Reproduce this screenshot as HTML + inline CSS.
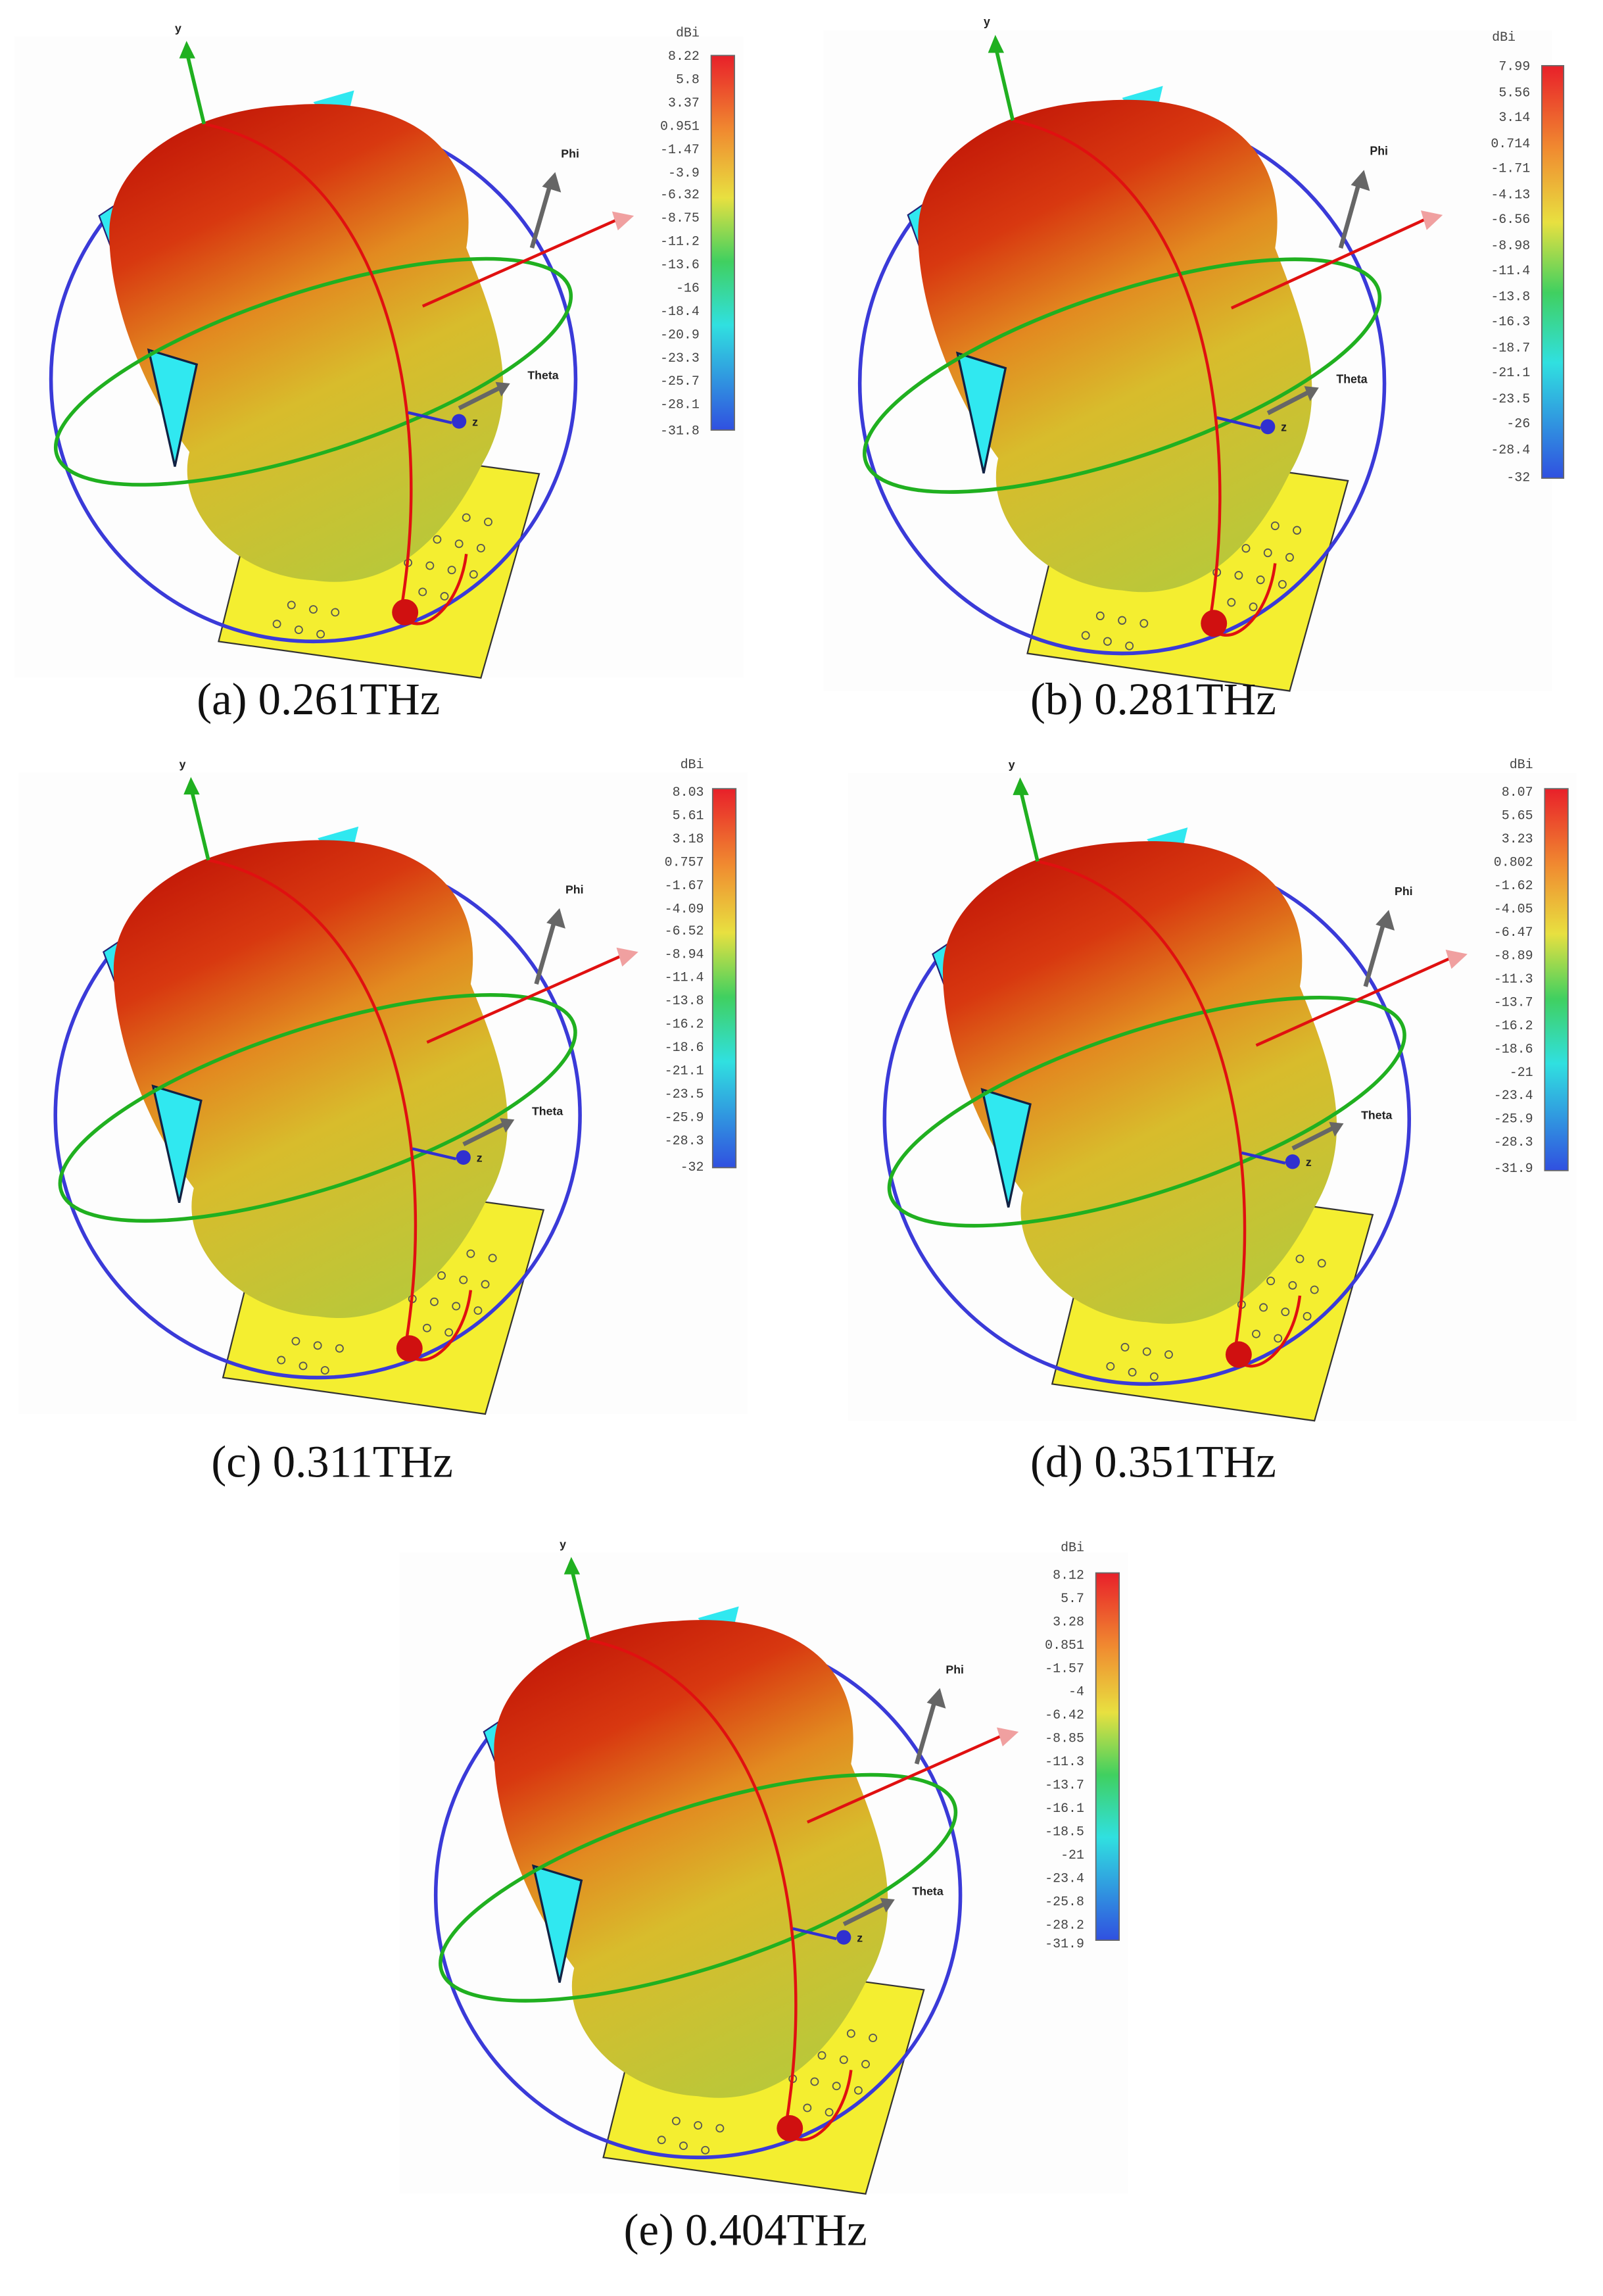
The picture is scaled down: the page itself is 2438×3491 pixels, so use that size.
<!DOCTYPE html>
<html><head><meta charset="utf-8"><style>
html,body{margin:0;padding:0;background:#fff}
svg{display:block}
.cb{font-family:"Liberation Mono",monospace;font-size:9px;fill:#444}
.cap{font-family:"Liberation Serif",serif;font-size:31px;fill:#111}
.ax{font-family:"Liberation Sans",sans-serif;font-size:8px;font-weight:bold;fill:#222}
</style></head><body>
<svg width="2438" height="3491" viewBox="0 0 1100 1575" xmlns="http://www.w3.org/2000/svg">
<defs>
<linearGradient id="blob" x1="0.3" y1="0" x2="0.7" y2="1">
<stop offset="0" stop-color="#c41a08"/><stop offset="0.2" stop-color="#d83810"/>
<stop offset="0.4" stop-color="#e28a20"/><stop offset="0.6" stop-color="#d8bc2c"/>
<stop offset="1" stop-color="#b8c83a"/></linearGradient>
<linearGradient id="bar" x1="0" y1="0" x2="0" y2="1">
<stop offset="0" stop-color="#e8202a"/><stop offset="0.2" stop-color="#f08a30"/>
<stop offset="0.38" stop-color="#e8e040"/><stop offset="0.55" stop-color="#40d060"/>
<stop offset="0.72" stop-color="#30e0e0"/><stop offset="1" stop-color="#3050e0"/></linearGradient>
<g id="pan">
<rect x="10" y="25" width="500" height="440" fill="#fdfdfd"/>
<polygon points="185,300 370,325 330,465 150,440" fill="#f4ee30" stroke="#333" stroke-width="1"/>
<g fill="none" stroke="#555" stroke-width="0.8">
<circle cx="200" cy="415" r="2.5"/><circle cx="215" cy="418" r="2.5"/><circle cx="230" cy="420" r="2.5"/><circle cx="205" cy="432" r="2.5"/><circle cx="220" cy="435" r="2.5"/><circle cx="190" cy="428" r="2.5"/>
<circle cx="290" cy="350" r="2.5"/><circle cx="305" cy="352" r="2.5"/><circle cx="320" cy="355" r="2.5"/><circle cx="335" cy="358" r="2.5"/><circle cx="285" cy="368" r="2.5"/><circle cx="300" cy="370" r="2.5"/><circle cx="315" cy="373" r="2.5"/><circle cx="330" cy="376" r="2.5"/><circle cx="280" cy="386" r="2.5"/><circle cx="295" cy="388" r="2.5"/><circle cx="310" cy="391" r="2.5"/><circle cx="325" cy="394" r="2.5"/><circle cx="290" cy="406" r="2.5"/><circle cx="305" cy="409" r="2.5"/>
</g>
<circle cx="215" cy="260" r="180" fill="none" stroke="#3a3ad8" stroke-width="2.5"/>
<polygon points="68,148 95,130 80,180" fill="#30e8f0" stroke="#227" stroke-width="1"/>
<polygon points="215,70 243,62 235,95" fill="#30e8f0"/>
<path d="M200 72 C290 65 330 110 320 170 C340 220 360 270 330 320 C300 380 260 405 215 398 C160 395 120 350 130 310 C100 270 75 210 75 160 C75 110 130 75 200 72 Z" fill="url(#blob)"/>
<polygon points="102,240 135,250 120,320" fill="#30e8f0" stroke="#124" stroke-width="1.5"/>
<ellipse cx="215" cy="255" rx="185" ry="55" transform="rotate(-18 215 255)" fill="none" stroke="#20b020" stroke-width="2.5"/>
<path d="M140 85 C260 110 300 270 275 420 C285 440 315 420 320 380" fill="none" stroke="#e01010" stroke-width="2"/>
<circle cx="278" cy="420" r="9" fill="#d01010"/>
<line x1="140" y1="85" x2="128" y2="35" stroke="#20b020" stroke-width="2.5"/>
<polygon points="123,40 128,28 134,40" fill="#20b020"/>
<line x1="290" y1="210" x2="425" y2="150" stroke="#e01010" stroke-width="2"/>
<polygon points="420,145 435,148 424,158" fill="#f0a0a0"/>
<line x1="365" y1="170" x2="378" y2="125" stroke="#666" stroke-width="3"/>
<polygon points="372,128 381,118 385,132" fill="#666"/>
<line x1="315" y1="280" x2="345" y2="265" stroke="#666" stroke-width="3"/>
<polygon points="340,262 350,263 344,272" fill="#666"/>
<line x1="280" y1="283" x2="310" y2="290" stroke="#3030d0" stroke-width="2"/>
<circle cx="315" cy="289" r="5" fill="#3030d0"/>
<text class="ax" x="120" y="22">y</text><text class="ax" x="385" y="108">Phi</text>
<text class="ax" x="362" y="260">Theta</text><text class="ax" x="324" y="292">z</text>
</g>
</defs>
<use href="#pan"/>
<use href="#pan" transform="translate(555,-5) scale(1,1.03)"/>
<use href="#pan" transform="translate(3,505)"/>
<use href="#pan" transform="translate(572,505) scale(1,1.01)"/>
<use href="#pan" transform="translate(264,1040)"/>
<g fill="url(#bar)" stroke="#666" stroke-width="0.8">
<rect x="488" y="38" width="16" height="257"/>
<rect x="1058" y="45" width="15" height="283"/>
<rect x="489" y="541" width="16" height="260"/>
<rect x="1060" y="541" width="16" height="262"/>
<rect x="752" y="1079" width="16" height="252"/>
</g>
<g class="cb" text-anchor="end">
<text x="480" y="25">dBi</text>
<text x="480" y="41">8.22</text><text x="480" y="57">5.8</text><text x="480" y="73">3.37</text><text x="480" y="89">0.951</text><text x="480" y="105">-1.47</text><text x="480" y="121">-3.9</text><text x="480" y="136">-6.32</text><text x="480" y="152">-8.75</text><text x="480" y="168">-11.2</text><text x="480" y="184">-13.6</text><text x="480" y="200">-16</text><text x="480" y="216">-18.4</text><text x="480" y="232">-20.9</text><text x="480" y="248">-23.3</text><text x="480" y="264">-25.7</text><text x="480" y="280">-28.1</text><text x="480" y="298">-31.8</text>
<text x="1040" y="28">dBi</text>
<text x="1050" y="48">7.99</text><text x="1050" y="66">5.56</text><text x="1050" y="83">3.14</text><text x="1050" y="101">0.714</text><text x="1050" y="118">-1.71</text><text x="1050" y="136">-4.13</text><text x="1050" y="153">-6.56</text><text x="1050" y="171">-8.98</text><text x="1050" y="188">-11.4</text><text x="1050" y="206">-13.8</text><text x="1050" y="223">-16.3</text><text x="1050" y="241">-18.7</text><text x="1050" y="258">-21.1</text><text x="1050" y="276">-23.5</text><text x="1050" y="293">-26</text><text x="1050" y="311">-28.4</text><text x="1050" y="330">-32</text>
<text x="483" y="527">dBi</text>
<text x="483" y="546">8.03</text><text x="483" y="562">5.61</text><text x="483" y="578">3.18</text><text x="483" y="594">0.757</text><text x="483" y="610">-1.67</text><text x="483" y="626">-4.09</text><text x="483" y="641">-6.52</text><text x="483" y="657">-8.94</text><text x="483" y="673">-11.4</text><text x="483" y="689">-13.8</text><text x="483" y="705">-16.2</text><text x="483" y="721">-18.6</text><text x="483" y="737">-21.1</text><text x="483" y="753">-23.5</text><text x="483" y="769">-25.9</text><text x="483" y="785">-28.3</text><text x="483" y="803">-32</text>
<text x="1052" y="527">dBi</text>
<text x="1052" y="546">8.07</text><text x="1052" y="562">5.65</text><text x="1052" y="578">3.23</text><text x="1052" y="594">0.802</text><text x="1052" y="610">-1.62</text><text x="1052" y="626">-4.05</text><text x="1052" y="642">-6.47</text><text x="1052" y="658">-8.89</text><text x="1052" y="674">-11.3</text><text x="1052" y="690">-13.7</text><text x="1052" y="706">-16.2</text><text x="1052" y="722">-18.6</text><text x="1052" y="738">-21</text><text x="1052" y="754">-23.4</text><text x="1052" y="770">-25.9</text><text x="1052" y="786">-28.3</text><text x="1052" y="804">-31.9</text>
<text x="744" y="1064">dBi</text>
<text x="744" y="1083">8.12</text><text x="744" y="1099">5.7</text><text x="744" y="1115">3.28</text><text x="744" y="1131">0.851</text><text x="744" y="1147">-1.57</text><text x="744" y="1163">-4</text><text x="744" y="1179">-6.42</text><text x="744" y="1195">-8.85</text><text x="744" y="1211">-11.3</text><text x="744" y="1227">-13.7</text><text x="744" y="1243">-16.1</text><text x="744" y="1259">-18.5</text><text x="744" y="1275">-21</text><text x="744" y="1291">-23.4</text><text x="744" y="1307">-25.8</text><text x="744" y="1323">-28.2</text><text x="744" y="1336">-31.9</text>
</g>
<g class="cap">
<text x="135" y="490">(a)  0.261THz</text>
<text x="707" y="490">(b)  0.281THz</text>
<text x="145" y="1013">(c)  0.311THz</text>
<text x="707" y="1013">(d)  0.351THz</text>
<text x="428" y="1540">(e)  0.404THz</text>
</g>
</svg>
</body></html>
